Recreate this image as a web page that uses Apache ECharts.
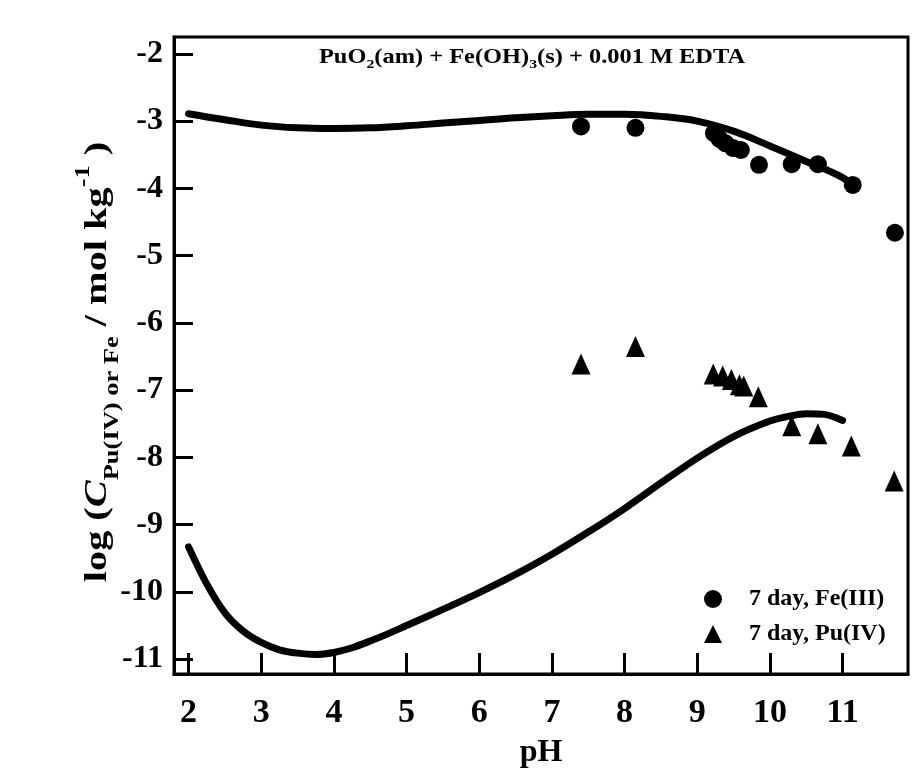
<!DOCTYPE html>
<html>
<head>
<meta charset="utf-8">
<script src="https://cdn.jsdelivr.net/npm/echarts@6/dist/echarts.min.js"></script>
<style>
  html, body { margin: 0; padding: 0; background: #fff; }
  #chart { width: 919px; height: 774px; }
</style>
</head>
<body>
<div id="chart"></div>
<script>
// Tick values for both axes
const xTicks = [2, 3, 4, 5, 6, 7, 8, 9, 10, 11];
const yTicks = [-11, -10, -9, -8, -7, -6, -5, -4, -3, -2];

// Model curve: total dissolved Fe
const fePH  = [2, 2.5, 3, 3.5, 4, 4.5, 5, 5.5, 6, 6.5, 7, 7.5, 8, 8.5, 9, 9.5, 10, 10.5, 11, 11.13];
const feLog = [-2.89, -2.98, -3.06, -3.10, -3.11, -3.10, -3.07, -3.03, -2.99, -2.95, -2.92, -2.90, -2.90, -2.93, -3.00, -3.15, -3.37, -3.60, -3.84, -3.96];

// Model curve: total dissolved Pu(IV)
const puPH  = [2, 2.25, 2.5, 2.75, 3, 3.25, 3.5, 3.75, 4, 4.25, 4.5, 4.75, 5, 5.25, 5.5, 6, 6.5, 7, 7.5, 8, 8.5, 9, 9.5, 10, 10.25, 10.5, 10.75, 11];
const puLog = [-9.33, -9.88, -10.31, -10.58, -10.75, -10.86, -10.91, -10.93, -10.90, -10.83, -10.73, -10.62, -10.50, -10.38, -10.26, -10.01, -9.74, -9.44, -9.11, -8.76, -8.38, -8.01, -7.69, -7.46, -7.39, -7.35, -7.36, -7.45];

// Measured 7-day Fe(III)
const feObsPH  = [7.40, 8.15, 9.23, 9.31, 9.39, 9.49, 9.60, 9.85, 10.30, 10.66, 11.14, 11.72];
const feObsLog = [-3.08, -3.10, -3.18, -3.27, -3.33, -3.40, -3.43, -3.65, -3.64, -3.64, -3.95, -4.66];

// Measured 7-day Pu(IV)
const puObsPH  = [7.40, 8.15, 9.22, 9.35, 9.47, 9.58, 9.64, 9.84, 10.30, 10.66, 11.12, 11.71];
const puObsLog = [-6.61, -6.35, -6.76, -6.79, -6.84, -6.92, -6.94, -7.10, -7.53, -7.65, -7.83, -8.35];

const pairs = (xs, ys) => xs.map((x, i) => [x, ys[i]]);

const FONT = '"Liberation Serif", "Times New Roman", serif';

const chart = echarts.init(document.getElementById('chart'), null, { renderer: 'canvas' });

chart.setOption({
  animation: false,
  backgroundColor: '#fff',
  grid: {
    left: 174, right: 11, top: 37, bottom: 90,
    show: true, borderColor: '#000', borderWidth: 3, backgroundColor: 'transparent'
  },
  xAxis: {
    type: 'value',
    min: 1.80, max: 11.90,
    name: 'pH',
    nameLocation: 'middle',
    nameGap: 63,
    nameTextStyle: { fontFamily: FONT, fontWeight: 'bold', fontSize: 32, color: '#000' },
    axisLine: { show: true, lineStyle: { color: '#000', width: 3 } },
    axisTick: { show: true, inside: true, length: 21, customValues: xTicks, lineStyle: { color: '#000', width: 3 } },
    axisLabel: { customValues: xTicks, margin: 22, fontFamily: FONT, fontWeight: 'bold', fontSize: 34, color: '#000' },
    splitLine: { show: false }
  },
  yAxis: {
    type: 'value',
    min: -11.22, max: -1.75,
    axisLine: { show: true, lineStyle: { color: '#000', width: 3 } },
    axisTick: { show: true, inside: true, length: 19, customValues: yTicks, lineStyle: { color: '#000', width: 3 } },
    axisLabel: { customValues: yTicks, margin: 11, fontFamily: FONT, fontWeight: 'bold', fontSize: 32, color: '#000' },
    splitLine: { show: false }
  },
  legend: {
    orient: 'vertical',
    left: 699, top: 582,
    itemWidth: 18, itemHeight: 18,
    itemGap: 11,
    data: ['7 day, Fe(III)', '7 day, Pu(IV)'],
    itemStyle: { opacity: 1 },
    textStyle: { fontFamily: FONT, fontWeight: 'bold', fontSize: 24, color: '#000', padding: [0, 0, 0, 22] }
  },
  graphic: [
    {
      type: 'text',
      x: 532, y: 58,
      scaleX: 1.22,
      style: {
        text: '{m|PuO}{s|2}{m|(am) + Fe(OH)}{s|3}{m|(s) + 0.001 M EDTA}',
        align: 'center',
        verticalAlign: 'middle',
        rich: {
          m: { fontFamily: FONT, fontWeight: 'bold', fontSize: 20, lineHeight: 26, fill: '#000' },
          s: { fontFamily: FONT, fontWeight: 'bold', fontSize: 13, lineHeight: 12, verticalAlign: 'bottom', fill: '#000' }
        }
      }
    },
    {
      type: 'text',
      x: 98, y: 362,
      rotation: Math.PI / 2,
      scaleX: 1.26,
      style: {
        text: '{b|log (}{i|C}{s|Pu(IV) or Fe}{b| / mol kg}{p|-1}{b| )}',
        align: 'center',
        verticalAlign: 'middle',
        rich: {
          b: { fontFamily: FONT, fontWeight: 'bold', fontSize: 32, lineHeight: 50, fill: '#000' },
          i: { fontFamily: FONT, fontWeight: 'bold', fontStyle: 'italic', fontSize: 32, lineHeight: 50, fill: '#000' },
          s: { fontFamily: FONT, fontWeight: 'bold', fontSize: 21, lineHeight: 32, verticalAlign: 'bottom', fill: '#000' },
          p: { fontFamily: FONT, fontWeight: 'bold', fontSize: 21, lineHeight: 4, verticalAlign: 'top', fill: '#000' }
        }
      }
    }
  ],
  series: [
    {
      name: 'Fe model',
      type: 'line',
      data: pairs(fePH, feLog),
      smooth: 0.4,
      showSymbol: false,
      lineStyle: { color: '#000', width: 7, cap: 'round', join: 'round' },
      z: 2
    },
    {
      name: 'Pu model',
      type: 'line',
      data: pairs(puPH, puLog),
      smooth: 0.3,
      showSymbol: false,
      lineStyle: { color: '#000', width: 7, cap: 'round', join: 'round' },
      z: 2
    },
    {
      name: '7 day, Fe(III)',
      type: 'scatter',
      data: pairs(feObsPH, feObsLog),
      symbol: 'circle',
      symbolSize: 18,
      itemStyle: { color: '#000', opacity: 1 },
      z: 3
    },
    {
      name: '7 day, Pu(IV)',
      type: 'scatter',
      data: pairs(puObsPH, puObsLog),
      symbol: 'triangle',
      symbolSize: [19, 21],
      itemStyle: { color: '#000', opacity: 1 },
      z: 3
    }
  ]
});
</script>
</body>
</html>
